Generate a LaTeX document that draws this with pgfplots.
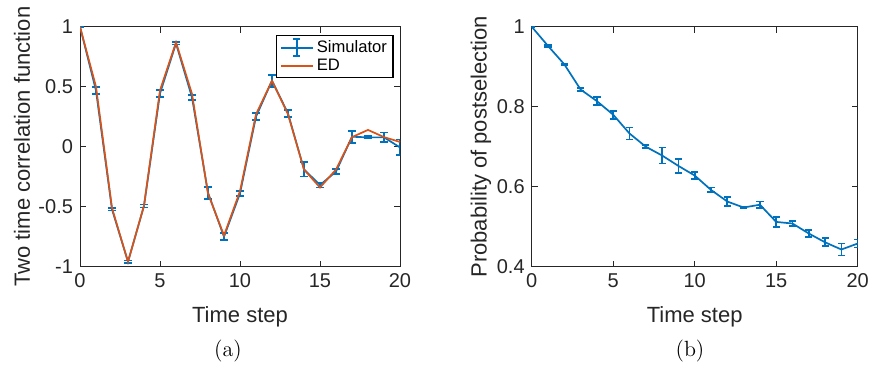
\documentclass[border=0pt]{standalone}
\usepackage{pgfplots}
\pgfplotsset{compat=1.18}
\usepackage{pgfplotstable}
\usepackage{fontspec}
\newfontfamily\helv{Liberation Sans}
\definecolor{matblue}{RGB}{0,114,189}
\definecolor{matorange}{RGB}{217,83,25}
\definecolor{axgray}{RGB}{38,38,38}

\pgfplotstableread{
t v e
0 1.000 0.000
1 0.467 0.030
2 -0.522 0.010
3 -0.958 0.010
4 -0.494 0.012
5 0.444 0.030
6 0.861 0.010
7 0.411 0.020
8 -0.383 0.050
9 -0.750 0.030
10 -0.389 0.020
11 0.250 0.030
12 0.550 0.050
13 0.278 0.030
14 -0.189 0.060
15 -0.319 0.020
16 -0.208 0.020
17 0.083 0.050
18 0.078 0.010
19 0.078 0.040
20 -0.006 0.065
}\simdata

\pgfplotstableread{
t v
0 1.00
1 0.50
2 -0.51
3 -0.96
4 -0.49
5 0.47
6 0.87
7 0.44
8 -0.39
9 -0.74
10 -0.37
11 0.27
12 0.55
13 0.27
14 -0.19
15 -0.34
16 -0.19
17 0.08
18 0.14
19 0.08
20 0.04
}\eddata

\pgfplotstableread{
t v e
0 1.000 0.000
1 0.952 0.002
2 0.906 0.002
3 0.843 0.004
4 0.814 0.010
5 0.780 0.010
6 0.733 0.015
7 0.700 0.004
8 0.678 0.020
9 0.652 0.018
10 0.628 0.008
11 0.592 0.006
12 0.563 0.012
13 0.548 0.002
14 0.555 0.008
15 0.512 0.013
16 0.508 0.007
17 0.483 0.008
18 0.461 0.010
19 0.443 0.015
20 0.458 0.010
}\probdata

\begin{document}
\begin{tikzpicture}
\useasboundingbox (0pt,0pt) rectangle (436pt,-183pt);
\pgfplotsset{
  myaxis/.style={
    scale only axis,
    anchor=south west,
    height=120pt,
    axis line style={axgray, line width=0.5pt},
    tick style={axgray, line width=0.5pt},
    tick align=inside,
    major tick length=3pt,
    ticklabel style={font=\helv\fontsize{10}{12}\selectfont, text=axgray},
    /pgf/number format/assume math mode=true,
    xmin=0, xmax=20,
    xtick={0,5,10,15,20},
    xlabel={Time step},
    every axis x label/.style={at={(axis description cs:0.5,0)}, anchor=center, yshift=-25pt, font=\helv\fontsize{11}{13}\selectfont, text=axgray},
  },
  errplot/.style={
    matblue, line width=0.85pt, mark=none,
    error bars/.cd, y dir=both, y explicit,
    error bar style={line width=0.85pt, matblue},
    error mark options={matblue, rotate=90, mark size=1.8pt, line width=0.85pt},
  },
}
\begin{axis}[myaxis,
  at={(40pt,-133.35pt)}, width=160pt,
  ymin=-1, ymax=1,
  ytick={-1,-0.5,0,0.5,1},
  ylabel={Two time correlation function},
  every axis y label/.style={at={(axis description cs:-0.181,0.5)}, rotate=90, anchor=center, font=\helv\fontsize{11}{13}\selectfont, text=axgray},
  legend style={at={(0.98,0.967)}, anchor=north east, draw=black, line width=0.6pt, font=\helv\fontsize{8.3}{9}\selectfont, inner xsep=1.5pt, inner ysep=1.5pt, row sep=0pt, nodes={inner ysep=0.8pt, inner xsep=1.5pt}},
  legend cell align=left,
]
\addplot[
  legend image code/.code={
    \draw[matblue, line width=1pt] (0pt,0pt) -- (16pt,0pt);
    \draw[matblue, line width=1pt] (8pt,-4.2pt) -- (8pt,4.2pt);
    \draw[matblue, line width=1pt] (6.2pt,-4.2pt) -- (9.8pt,-4.2pt);
    \draw[matblue, line width=1pt] (6.2pt,4.2pt) -- (9.8pt,4.2pt);
  }, errplot] table[x=t, y=v, y error=e] {\simdata};
\addlegendentry{Simulator}
\addplot[matorange, line width=0.85pt, mark=none,
  legend image code/.code={\draw[matorange, line width=1pt] (0pt,0pt) -- (16pt,0pt);}] table[x=t, y=v] {\eddata};
\addlegendentry{ED}
\end{axis}
\begin{axis}[myaxis,
  at={(265.85pt,-133.35pt)}, width=163pt,
  ymin=0.4, ymax=1,
  ytick={0.4,0.6,0.8,1},
  ylabel={Probability of postselection},
  every axis y label/.style={at={(axis description cs:-0.156,0.5)}, rotate=90, anchor=center, font=\helv\fontsize{11}{13}\selectfont, text=axgray},
]
\addplot[errplot] table[x=t, y=v, y error=e] {\probdata};
\end{axis}
\node[font=\fontsize{11}{13}\selectfont] at (114pt,-175.5pt) {(a)};
\node[font=\fontsize{11}{13}\selectfont] at (345pt,-175.5pt) {(b)};
\end{tikzpicture}
\end{document}
